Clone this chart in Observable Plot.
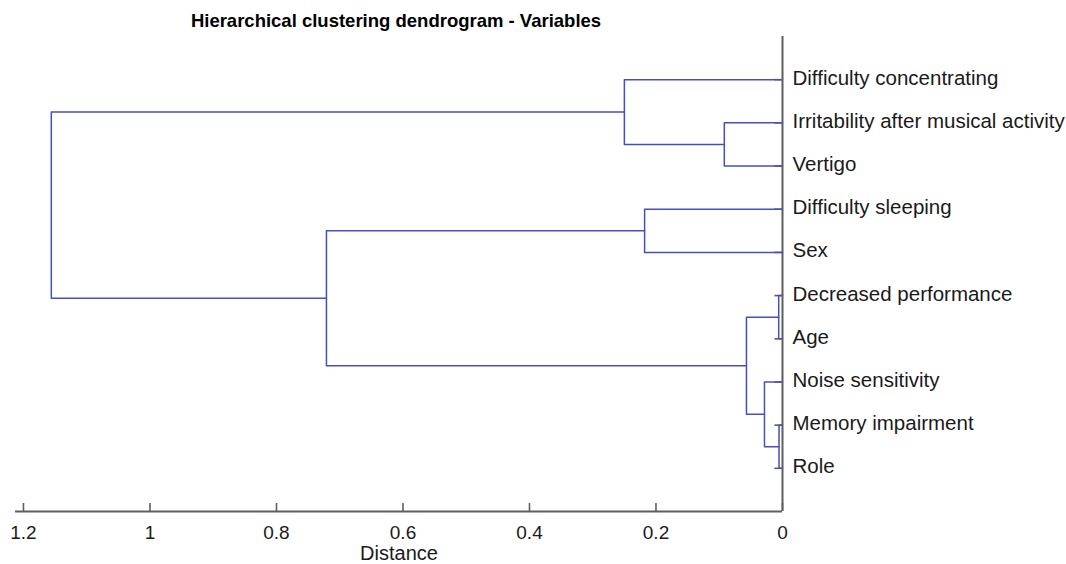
<!DOCTYPE html>
<html>
<head>
<meta charset="utf-8">
<script src="https://cdn.jsdelivr.net/npm/d3@7"></script>
<script src="https://cdn.jsdelivr.net/npm/@observablehq/plot@0.6"></script>
<style>
  html, body { margin: 0; padding: 0; background: #fff; }
  #title {
    width: 792px; height: 30px; box-sizing: border-box; padding-top: 10px;
    line-height: 20px; text-align: center; white-space: nowrap;
    font: bold 18.5px "Liberation Sans", Arial, sans-serif; color: #000;
  }
  #chart svg { display: block; }
</style>
</head>
<body>
<div id="title">Hierarchical clustering dendrogram - Variables</div>
<div id="chart"></div>
<script>
// Leaves, top to bottom, with their position on the vertical axis
const leafLabels = [
  "Difficulty concentrating",
  "Irritability after musical activity",
  "Vertigo",
  "Difficulty sleeping",
  "Sex",
  "Decreased performance",
  "Age",
  "Noise sensitivity",
  "Memory impairment",
  "Role"
];
const leafPositions = [10, 9, 8, 7, 6, 5, 4, 3, 2, 1];

// Merges (linkage): left child, right child, merge distance
const mergeIds    = ["c1", "c2", "c3", "c4", "c5", "c6", "c7", "c8", "c9"];
const mergeLeft   = ["Decreased performance", "Memory impairment", "Noise sensitivity",
                     "Irritability after musical activity", "c1", "Difficulty sleeping",
                     "Difficulty concentrating", "c6", "c7"];
const mergeRight  = ["Age", "Role", "c2", "Vertigo", "c3", "Sex", "c4", "c5", "c8"];
const mergeHeights = [0.006, 0.0055, 0.0285, 0.092, 0.057, 0.218, 0.250, 0.721, 1.156];

// Axis ticks
const xTicks = [1.2, 1, 0.8, 0.6, 0.4, 0.2, 0];
const xTickLabels = ["1.2", "1", "0.8", "0.6", "0.4", "0.2", "0"];

// Build node table and link polylines
const nodes = new Map();
leafLabels.forEach((name, i) => nodes.set(name, {d: 0, y: leafPositions[i]}));
const linkPoints = [];
mergeIds.forEach((id, i) => {
  const L = nodes.get(mergeLeft[i]);
  const R = nodes.get(mergeRight[i]);
  const h = mergeHeights[i];
  nodes.set(id, {d: h, y: (L.y + R.y) / 2});
  linkPoints.push(
    {id, d: L.d, y: L.y},
    {id, d: h, y: L.y},
    {id, d: h, y: R.y},
    {id, d: R.d, y: R.y}
  );
});

const font = '"Liberation Sans", Arial, sans-serif';
const axisGray = "#5e5e5e";
const linkBlue = "#4450c2";
// inward tick lengths, in scale units (about 8 px each)
const xTickLen = 0.185;
const yTickLen = 0.012;

const chart = Plot.plot({
  width: 1066,
  height: 534,
  marginTop: 6,
  marginBottom: 53,
  marginLeft: 15,
  marginRight: 284,
  x: {domain: [0, 1.2126], reverse: true},
  y: {domain: [0, 11]},
  style: {fontFamily: font, fontSize: "19px", color: "#1a1a1a", background: "#fff"},
  marks: [
    Plot.ruleX(xTicks, {x: d => d, y1: 0, y2: xTickLen, stroke: axisGray, strokeWidth: 1.6}),
    Plot.ruleY(leafPositions, {y: d => d, x1: 0, x2: yTickLen, stroke: axisGray, strokeWidth: 1.6}),
    // tick labels
    Plot.axisX(xTicks, {
      tickSize: 0, tickPadding: 14, fill: "#1a1a1a",
      fontSize: 19,
      tickFormat: d => xTickLabels[xTicks.indexOf(d)],
      label: null
    }),
    Plot.axisX({
      ticks: [], tickSize: 0, fill: "#1a1a1a", fontSize: 20,
      label: "Distance", labelAnchor: "center", labelOffset: 48, labelArrow: "none"
    }),
    Plot.axisY(leafPositions, {
      anchor: "right", tickSize: 0, tickPadding: 10, dy: -1.5,
      fill: "#1a1a1a", fontSize: 20.5, textAnchor: "start",
      tickFormat: d => leafLabels[leafPositions.indexOf(d)],
      label: null
    }),
    Plot.line(linkPoints, {x: "d", y: "y", z: "id", stroke: linkBlue, strokeWidth: 1.5, curve: "linear"}),
    Plot.ruleY([0], {stroke: axisGray, strokeWidth: 2}),
    Plot.ruleX([0], {stroke: axisGray, strokeWidth: 2})
  ]
});
document.getElementById("chart").appendChild(chart);
</script>
</body>
</html>
